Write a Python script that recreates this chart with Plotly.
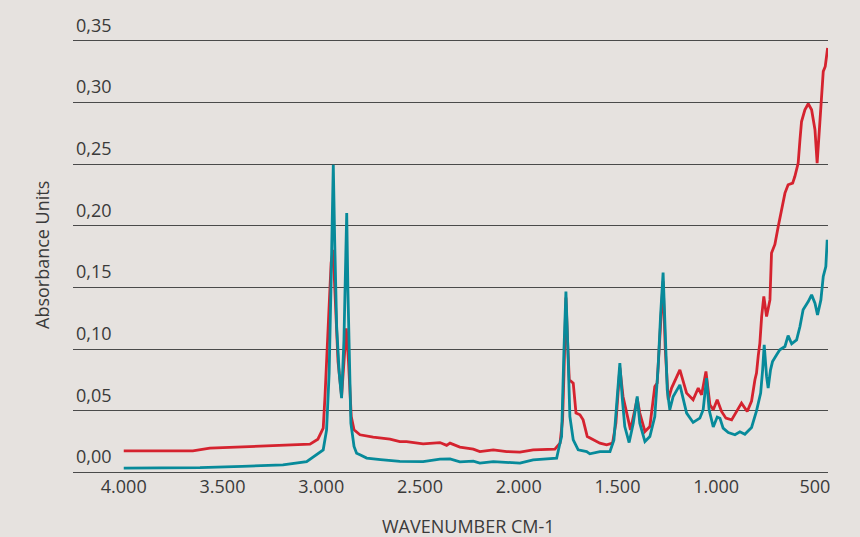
import plotly.graph_objects as go

# Teal spectrum (wavenumber cm-1, absorbance)
teal_wn = [4000, 3800, 3614, 3400, 3194, 3074, 3023, 2990, 2973, 2960, 2951, 2944, 2939, 2932,
           2922, 2909, 2897, 2885, 2876, 2871, 2865, 2858, 2850, 2834, 2821, 2804, 2770, 2700,
           2652, 2602, 2484, 2399, 2348, 2298, 2230, 2197, 2129, 2061, 1994, 1927, 1859, 1808,
           1795, 1783, 1771, 1761, 1751, 1741, 1724, 1699, 1656, 1640, 1589, 1538, 1518, 1501,
           1488, 1475, 1463, 1441, 1420, 1400, 1387, 1361, 1336, 1311, 1294, 1282, 1269, 1258,
           1248, 1235, 1218, 1184, 1150, 1117, 1083, 1066, 1049, 1036, 1015, 995, 981, 965, 939,
           905, 880, 855, 821, 796, 782, 775, 765, 757, 745, 737, 725, 715, 694, 678, 652, 636,
           618, 593, 576, 560, 534, 517, 500, 487, 470, 458, 445, 438]
teal_abs = [0.0036, 0.0036, 0.0040, 0.0050, 0.0062, 0.0089, 0.0144, 0.0184, 0.0346, 0.0806,
            0.148, 0.2158, 0.2496, 0.1888, 0.1184, 0.0806, 0.0603, 0.1076, 0.1752, 0.2104,
            0.148, 0.0806, 0.040, 0.0211, 0.0157, 0.0144, 0.0117, 0.0105, 0.0095, 0.0090,
            0.0089, 0.0109, 0.0110, 0.0087, 0.0092, 0.0076, 0.0089, 0.0085, 0.0076, 0.0103,
            0.0108, 0.0117, 0.0211, 0.0292, 0.0995, 0.1468, 0.0995, 0.0454, 0.0265, 0.0184,
            0.0170, 0.0152, 0.0170, 0.0170, 0.0265, 0.059, 0.0887, 0.059, 0.0373, 0.0243,
            0.040, 0.0617, 0.040, 0.0251, 0.0292, 0.0454, 0.086, 0.1265, 0.1622, 0.113,
            0.067, 0.0509, 0.0617, 0.0711, 0.0482, 0.0406, 0.0441, 0.0509, 0.0766, 0.0509,
            0.0370, 0.045, 0.044, 0.036, 0.0325, 0.0306, 0.033, 0.031, 0.0365, 0.050, 0.0617,
            0.0644, 0.0833, 0.1036, 0.0779, 0.0685, 0.0833, 0.090, 0.0955, 0.0995, 0.1022,
            0.111, 0.1044, 0.1076, 0.1184, 0.132, 0.1387, 0.1441, 0.1374, 0.1279, 0.140,
            0.159, 0.1671, 0.1888]

# Red spectrum
red_wn = [4000, 3650, 3564, 3400, 3194, 3057, 3017, 3007, 2990, 2981, 2965, 2950, 2940, 2930,
          2915, 2897, 2885, 2873, 2862, 2848, 2834, 2804, 2737, 2703, 2652, 2602, 2568, 2484,
          2399, 2365, 2348, 2298, 2230, 2197, 2129, 2061, 1994, 1927, 1859, 1817, 1791, 1778,
          1771, 1761, 1751, 1744, 1724, 1710, 1690, 1674, 1653, 1623, 1589, 1555, 1525, 1508,
          1488, 1472, 1451, 1434, 1412, 1400, 1387, 1361, 1336, 1311, 1299, 1282, 1269, 1258,
          1243, 1226, 1184, 1150, 1117, 1091, 1074, 1052, 1032, 1015, 995, 973, 951, 922, 897,
          872, 843, 821, 804, 796, 787, 779, 770, 759, 745, 728, 720, 703, 686, 669, 652, 636,
          613, 602, 585, 576, 568, 551, 534, 517, 500, 489, 479, 466, 458, 448, 441, 436]
red_abs = [0.0176, 0.0176, 0.0198, 0.0210, 0.0225, 0.0230, 0.0270, 0.030, 0.036, 0.0617,
           0.120, 0.170, 0.1806, 0.140, 0.090, 0.062, 0.090, 0.117, 0.090, 0.0454, 0.0346,
           0.0306, 0.0287, 0.0279, 0.0271, 0.0251, 0.0251, 0.0233, 0.0243, 0.0220, 0.0238,
           0.0206, 0.0190, 0.0170, 0.0184, 0.0170, 0.0165, 0.0184, 0.0184, 0.0190, 0.0238,
           0.0427, 0.080, 0.142, 0.100, 0.0752, 0.0725, 0.0482, 0.0468, 0.0427, 0.0292,
           0.0265, 0.0238, 0.0225, 0.0238, 0.040, 0.085, 0.0617, 0.0454, 0.0346, 0.0509,
           0.060, 0.0482, 0.0333, 0.0373, 0.0698, 0.0725, 0.120, 0.155, 0.100, 0.059,
           0.0685, 0.0833, 0.0644, 0.059, 0.0685, 0.063, 0.0819, 0.055, 0.0509, 0.059,
           0.0495, 0.0441, 0.0427, 0.0495, 0.0563, 0.0495, 0.058, 0.0752, 0.0806, 0.095,
           0.105, 0.1265, 0.1428, 0.1265, 0.140, 0.178, 0.185, 0.1995, 0.2131, 0.2266,
           0.2334, 0.2347, 0.2401, 0.251, 0.2699, 0.2847, 0.2942, 0.2991, 0.2942, 0.278,
           0.251, 0.278, 0.3106, 0.3253, 0.3293, 0.3415, 0.3443]

x_ticks = [4000, 3500, 3000, 2500, 2000, 1500, 1000, 500]
y_ticks = [0.00, 0.05, 0.10, 0.15, 0.20, 0.25, 0.30, 0.35]

BG = "#e6e2df"
TXT = "#3a3a3a"
FONT = "Open Sans"

W, H = 860, 537
ML, MR, MT, MB = 73, 32, 4, 63
PW, PH = W - ML - MR, H - MT - MB
Y0, Y1 = -0.0012, 0.3800

fig = go.Figure()
fig.add_trace(go.Scatter(x=red_wn, y=red_abs, mode="lines",
                         line=dict(color="#d5232f", width=2.8), showlegend=False))
fig.add_trace(go.Scatter(x=teal_wn, y=teal_abs, mode="lines",
                         line=dict(color="#078a9a", width=2.8), showlegend=False))

fig.update_layout(
    width=W, height=H,
    margin=dict(l=ML, r=MR, t=MT, b=MB, pad=0),
    paper_bgcolor=BG, plot_bgcolor=BG,
    separators=",.",
    font=dict(family=FONT, size=18, color=TXT),
    showlegend=False,
)
fig.update_xaxes(
    range=[4257, 434], tickvals=x_ticks, tickformat=",d",
    showgrid=False, zeroline=False, showline=False, ticks="",
    tickfont=dict(family=FONT, size=18, color=TXT),
)
fig.update_yaxes(
    range=[Y0, Y1], tickvals=y_ticks, tickformat=".2f",
    showgrid=True, gridcolor="#4a4a4a", gridwidth=1,
    zeroline=False, showline=False, ticks="",
    ticklabelposition="inside top", ticklabelshift=-3,
    tickfont=dict(family=FONT, size=18, color=TXT),
)
fig.add_annotation(text="WAVENUMBER CM-1", xref="paper", yref="paper",
                   x=(468 - ML) / PW, y=-(526 - (H - MB)) / PH, xanchor="center", yanchor="middle",
                   showarrow=False, font=dict(family=FONT, size=18, color=TXT))
fig.add_annotation(text="Absorbance Units", xref="paper", yref="paper", textangle=-90,
                   x=-(ML - 42) / PW, y=((H - MB) - 255) / PH, xanchor="center", yanchor="middle",
                   showarrow=False, font=dict(family=FONT, size=18, color=TXT))

fig.write_html("out.html", config={"displayModeBar": False},
               post_script="document.body.style.margin='0px';document.body.style.background='%s';" % BG)
